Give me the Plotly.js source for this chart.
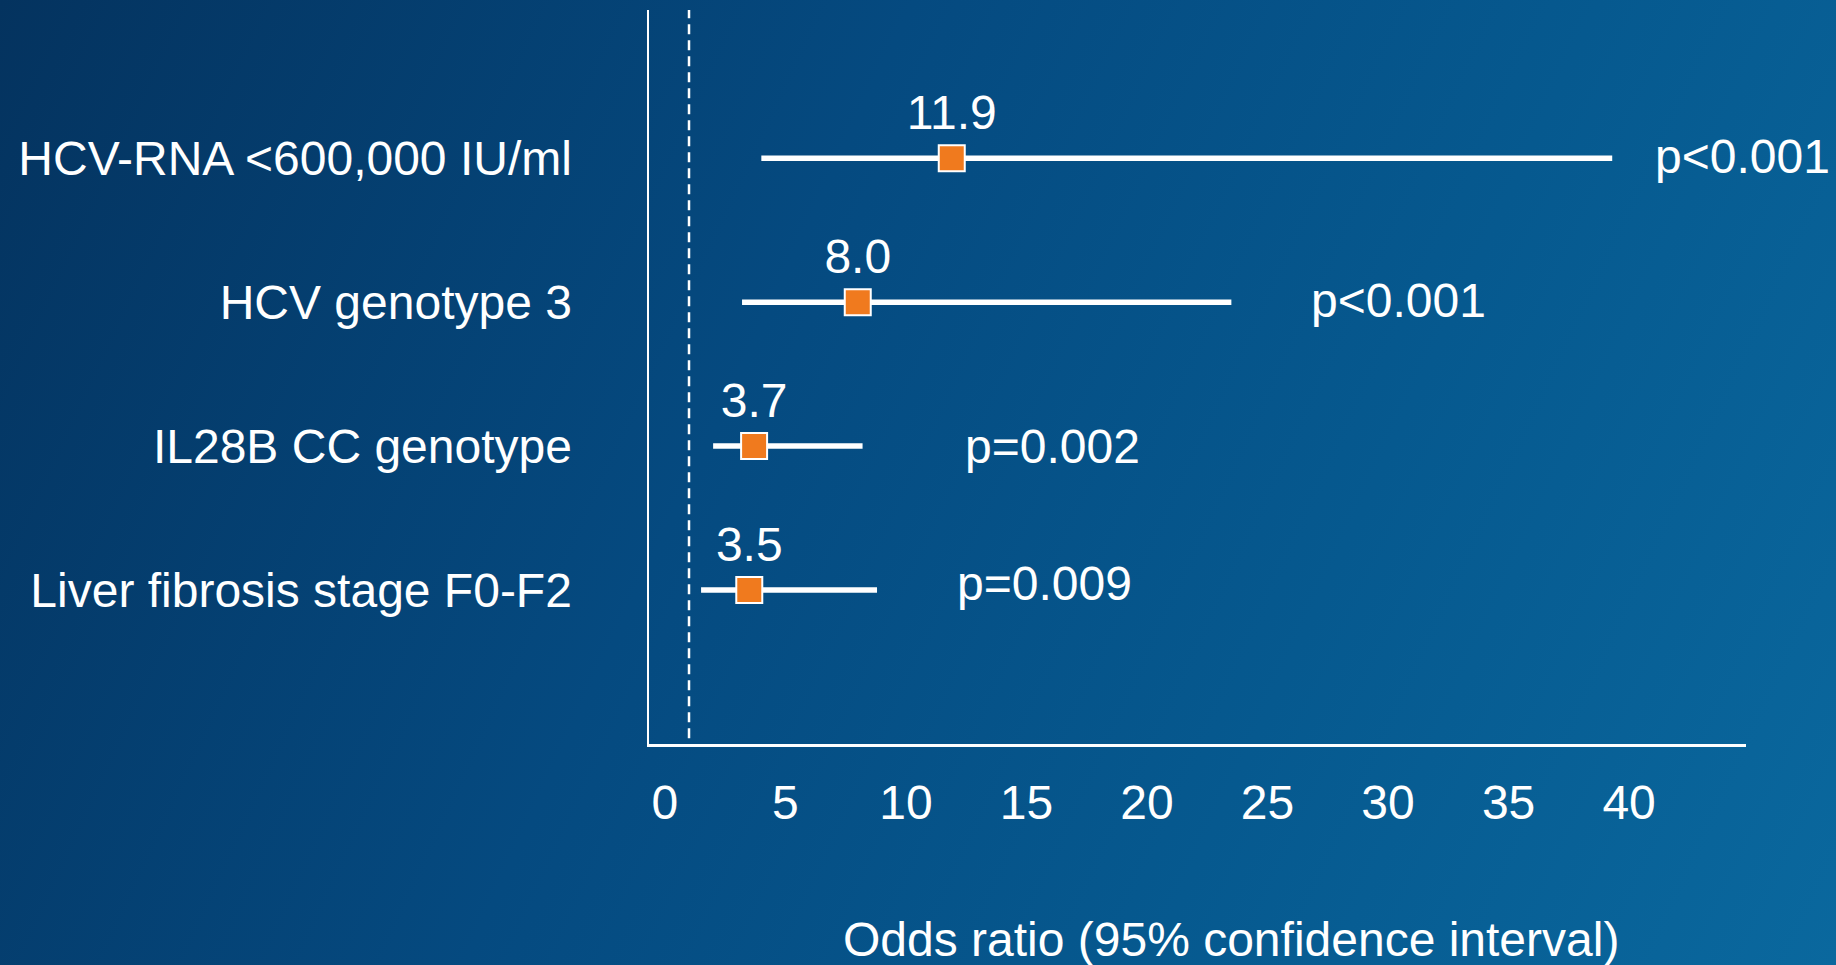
<!DOCTYPE html>
<html>
<head>
<meta charset="utf-8">
<script src="https://cdn.plot.ly/plotly-3.0.1.min.js"></script>
<style>
  html, body { margin: 0; padding: 0; width: 1836px; height: 965px; overflow: hidden;
    background: linear-gradient(115deg, #04335f 0%, #054a80 40%, #06598f 70%, #0a689e 100%); }
  #chart { width: 1836px; height: 965px; }
</style>
</head>
<body>
<div id="chart"></div>
<script>
// ---- data ----
const categories = ["HCV-RNA <600,000 IU/ml", "HCV genotype 3", "IL28B CC genotype", "Liver fibrosis stage F0-F2"];
const oddsRatio = [11.9, 8.0, 3.7, 3.5];
const ciLower = [4.0, 3.2, 2.0, 1.5];
const ciUpper = [39.3, 23.5, 8.2, 8.8];
const pValues = ["p<0.001", "p<0.001", "p=0.002", "p=0.009"];
const xTickVals = [0, 5, 10, 15, 20, 25, 30, 35, 40];
const refLine = 1;
const xTitle = "Odds ratio (95% confidence interval)";

// ---- styling ----
const FONT = "Liberation Sans, Arial, sans-serif";
const FS = 48;
const pLabelShift = [41, 78, 100, 78];
const pLabelYShift = [2, 2, 0, 7];

const trace = {
  type: "scatter",
  mode: "markers+text",
  x: oddsRatio,
  y: categories,
  text: oddsRatio.map(v => v.toFixed(1)),
  textposition: "top center",
  textfont: { family: FONT, size: FS, color: "#ffffff" },
  cliponaxis: false,
  marker: { symbol: "square", size: 26, color: "#F07A1E", line: { color: "#ffffff", width: 2 } },
  error_x: {
    type: "data", symmetric: false,
    array: ciUpper.map((u, i) => u - oddsRatio[i]),
    arrayminus: ciLower.map((l, i) => oddsRatio[i] - l),
    color: "#ffffff", thickness: 5.5, width: 0
  },
  hoverinfo: "skip",
  showlegend: false
};

const annotations = pValues.map((p, i) => ({
  x: ciUpper[i], y: categories[i], xref: "x", yref: "y",
  text: p, showarrow: false, xanchor: "left", yanchor: "middle",
  xshift: pLabelShift[i], yshift: pLabelYShift[i],
  font: { family: FONT, size: FS, color: "#ffffff" }
}));
annotations.push({
  x: 0.5305, y: -0.2657, xref: "paper", yref: "paper",
  text: xTitle, showarrow: false, xanchor: "center", yanchor: "middle",
  font: { family: FONT, size: FS, color: "#ffffff" }
});

const layout = {
  width: 1836, height: 965,
  margin: { l: 649, r: 90, t: 10, b: 221 },
  paper_bgcolor: "rgba(0,0,0,0)",
  plot_bgcolor: "rgba(0,0,0,0)",
  font: { family: FONT, size: FS, color: "#ffffff" },
  xaxis: {
    range: [-0.66, 44.85],
    tickvals: xTickVals,
    ticktext: xTickVals.map(String),
    showgrid: false, zeroline: false,
    showline: true, linecolor: "#ffffff", linewidth: 2.5,
    ticks: "outside", ticklen: 15, tickcolor: "rgba(0,0,0,0)",
    tickfont: { family: FONT, size: FS, color: "#ffffff" },
    fixedrange: true
  },
  yaxis: {
    type: "category",
    categoryorder: "array", categoryarray: categories,
    range: [4.07, -1.03],
    showgrid: false, zeroline: false,
    showline: true, linecolor: "#ffffff", linewidth: 2.5,
    ticks: "outside", ticklen: 65, tickcolor: "rgba(0,0,0,0)",
    tickfont: { family: FONT, size: FS, color: "#ffffff" },
    fixedrange: true
  },
  shapes: [{
    type: "line", xref: "x", yref: "paper",
    x0: refLine, x1: refLine, y0: 0.008, y1: 1,
    line: { color: "#ffffff", width: 2.5, dash: "10px,6px" }
  }],
  annotations: annotations
};

Plotly.newPlot("chart", [trace], layout, { displayModeBar: false, staticPlot: true });
</script>
</body>
</html>
